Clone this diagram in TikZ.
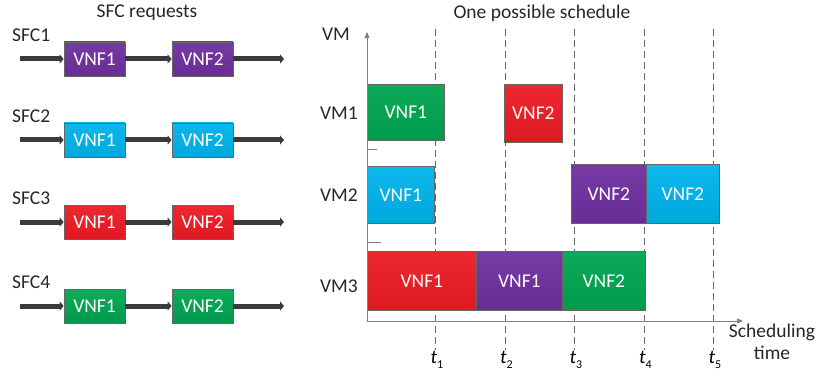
\documentclass[tikz,border=0pt]{standalone}
\usepackage{fontspec}
\setmainfont{Carlito}
\usetikzlibrary{arrows.meta}
\definecolor{vpurple}{HTML}{7030A0}
\definecolor{vcyan}{HTML}{00B4EC}
\definecolor{vred}{HTML}{ED1C24}
\definecolor{vgreen}{HTML}{00A651}
\definecolor{axisgray}{HTML}{808080}
\definecolor{arrowgray}{HTML}{3A3A3A}
\begin{document}
\begin{tikzpicture}[x=1pt,y=-1pt,
  vnf/.style={draw=black!60, line width=0.7pt, text=white, inner sep=0pt,
    font=\fontsize{19.5}{22}\selectfont},
  lvnf/.style={vnf, minimum width=61pt, minimum height=34pt},
  svnf/.style={vnf, anchor=north west},
  lbl/.style={font=\fontsize{19.5}{22}\selectfont, text=black!85, inner sep=0pt},
  flow/.style={draw=arrowgray, line width=5pt, -{Triangle[length=4pt,width=9pt]}},
  axisline/.style={draw=axisgray, line width=0.9pt, -{Triangle[length=6pt,width=5pt]}},
  tickline/.style={draw=axisgray, line width=0.9pt},
  dashline/.style={draw=black!60, line width=0.8pt, dash pattern=on 7pt off 4pt},
  tlbl/.style={font=\fontsize{19.5}{22}\selectfont, inner sep=0pt}
]
\useasboundingbox (0,0) rectangle (817,377);

% ---------- left: SFC requests ----------
\node[lbl] (ltitle) at (147,13) {SFC requests};

\foreach \i/\y/\c in {1/59/vpurple, 2/140/vcyan, 3/222/vred, 4/306/vgreen}{
  \node[lbl, anchor=west] (sfc\i) at (12,\y-24) {SFC\i};
  \coordinate (in\i) at (20,\y);
  \coordinate (out\i) at (284,\y);
  \node[lvnf, top color=\c!95!white, bottom color=\c!93!black] (a\i) at (94.5,\y) {VNF1};
  \node[lvnf, top color=\c!95!white, bottom color=\c!93!black] (b\i) at (202.5,\y) {VNF2};
  \draw[flow] (in\i) -- (a\i.west);
  \draw[flow] (a\i.east) -- (b\i.west);
  \draw[flow] (b\i.east) -- (out\i);
}

% ---------- right: schedule ----------
\node[lbl] (rtitle) at (542,13) {One possible schedule};
\node[lbl] (vm) at (336,34) {VM};
\node[lbl] (vm1) at (339,113) {VM1};
\node[lbl] (vm2) at (339,195) {VM2};
\node[lbl] (vm3) at (339,286) {VM3};

% dashed time lines
\foreach \k/\x in {1/435.5, 2/505, 3/574.5, 4/644, 5/713.5}{
  \coordinate (dtop\k) at (\x,29);
  \coordinate (dbot\k) at (\x,350);
  \draw[dashline] (dtop\k) -- (dbot\k);
  \node[tlbl, anchor=north] (t\k) at (\x+1.5,351) {\textit{t}\raisebox{-0.5ex}{\fontsize{12}{13}\selectfont\k}};
}

% boxes
\node[svnf, minimum width=77pt, minimum height=56pt, top color=vgreen!95!white, bottom color=vgreen!93!black] (s11) at (367,84) {VNF1};
\node[svnf, minimum width=58pt, minimum height=58pt, top color=vred!95!white, bottom color=vred!93!black] (s12) at (504,84) {VNF2};
\node[svnf, minimum width=67pt, minimum height=57pt, top color=vcyan!95!white, bottom color=vcyan!93!black] (s21) at (367,166) {VNF1};
\node[svnf, minimum width=75pt, minimum height=59pt, top color=vpurple!95!white, bottom color=vpurple!93!black] (s22) at (571,164) {VNF2};
\node[svnf, minimum width=73pt, minimum height=59pt, top color=vcyan!95!white, bottom color=vcyan!93!black] (s23) at (646,164) {VNF2};
\node[svnf, minimum width=109pt, minimum height=59pt, top color=vred!95!white, bottom color=vred!93!black] (s31) at (367,251) {VNF1};
\node[svnf, minimum width=86pt, minimum height=59pt, top color=vpurple!95!white, bottom color=vpurple!93!black] (s32) at (476,251) {VNF1};
\node[svnf, minimum width=83pt, minimum height=59pt, top color=vgreen!95!white, bottom color=vgreen!93!black] (s33) at (562,251) {VNF2};

% axes
\coordinate (o) at (367,321);
\coordinate (ytop) at (367,32);
\coordinate (xend) at (743,321);
\draw[axisline] (o) -- (ytop);
\draw[axisline] (o) -- (xend);
\coordinate (tk1a) at (367,149);
\coordinate (tk1b) at (377,149);
\coordinate (tk2a) at (367,242);
\coordinate (tk2b) at (381,242);
\draw[tickline] (tk1a) -- (tk1b);
\draw[tickline] (tk2a) -- (tk2b);

\node[lbl, align=center] (sched) at (772,342) {Scheduling\\time};
\end{tikzpicture}
\end{document}
